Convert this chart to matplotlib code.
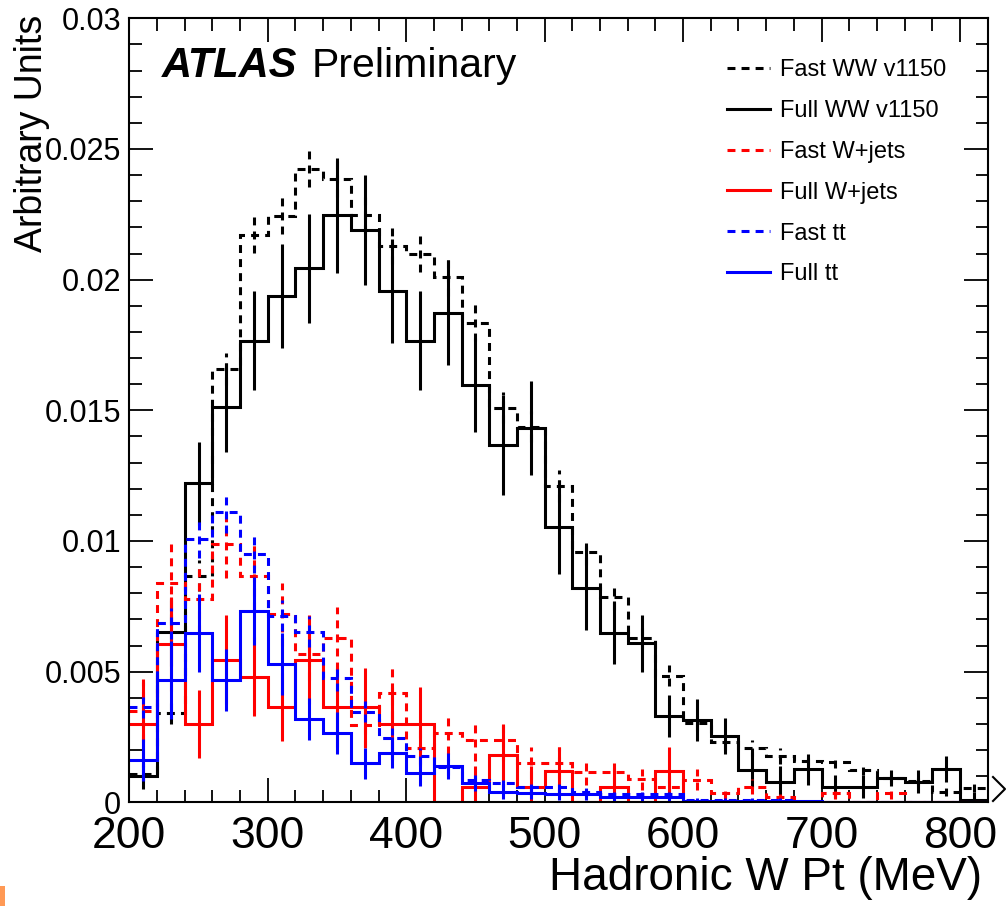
import numpy as np
import matplotlib
matplotlib.use("Agg")
import matplotlib.pyplot as plt
from matplotlib.lines import Line2D
from matplotlib.patches import Rectangle
from matplotlib.ticker import MultipleLocator, FixedLocator, FixedFormatter

plt.rcParams['font.family'] = ['Liberation Sans', 'DejaVu Sans']

# ---------------- data ----------------
bin_edges = list(range(200, 821, 20))  # 31 bins, 200..820

fast_ww = [0.0011, 0.0034, 0.00867, 0.01658, 0.02171, 0.02245, 0.02423, 0.02385,
           0.02247, 0.02129, 0.02098, 0.02009, 0.01835, 0.0151, 0.01437, 0.0121,
           0.00959, 0.00787, 0.00628, 0.00485, 0.00302, 0.0023, 0.00207, 0.00178,
           0.00158, 0.00153, 0.00124, 0.00092, 0.00083, 0.0004, 0.00054]
fast_ww_err = [0.0003, 0.0004, 0.0006, 0.0006, 0.0007, 0.0007, 0.0007, 0.0007,
               0.0007, 0.0007, 0.0007, 0.0007, 0.0007, 0.0006, 0.0006, 0.0006,
               0.0005, 0.0005, 0.0004, 0.0004, 0.0003, 0.0003, 0.0003, 0.0003,
               0.0002, 0.0002, 0.0002, 0.0002, 0.0002, 0.00015, 0.00015]

full_ww = [0.00102, 0.0065, 0.0122, 0.01511, 0.01766, 0.01937, 0.02043, 0.02247,
           0.0219, 0.01957, 0.01766, 0.01874, 0.01597, 0.01367, 0.01434, 0.01052,
           0.00819, 0.00649, 0.00608, 0.00331, 0.00315, 0.00254, 0.00124, 0.00079,
           0.00126, 0.0006, 0.0006, 0.00092, 0.00079, 0.00126, 0.0001]
full_ww_err = [0.0005, 0.0013, 0.0016, 0.0017, 0.0019, 0.0020, 0.0021, 0.0022,
               0.0021, 0.0020, 0.0019, 0.0020, 0.0018, 0.0019, 0.0018, 0.0018,
               0.0016, 0.0012, 0.0011, 0.0008, 0.0008, 0.0007, 0.0007, 0.0006,
               0.0006, 0.00045, 0.00045, 0.0003, 0.00045, 0.0005, 0.0003]

fast_wjets = [0.0035, 0.0084, 0.00777, 0.00988, 0.00867, 0.0072, 0.00568, 0.00628,
              0.00296, 0.0042, 0.00207, 0.00266, 0.00238, 0.00238, 0.0015, 0.0015,
              0.00117, 0.00117, 0.00088, 0.0006, 0.00086, 0.00034, 0.0006, 0.0002,
              0.0, 0.00034, 0.0, 0.00034, 0.0, 0.0, 0.0]
fast_wjets_err = [0.0012, 0.0015, 0.0013, 0.0013, 0.0013, 0.0012, 0.0010, 0.0012,
                  0.0009, 0.0010, 0.0007, 0.0008, 0.0008, 0.0008, 0.0006, 0.0006,
                  0.0005, 0.0005, 0.0004, 0.0004, 0.0004, 0.0002, 0.0003, 0.0002,
                  0.0, 0.0002, 0.0, 0.0002, 0.0, 0.0, 0.0]

full_wjets = [0.003, 0.00606, 0.003, 0.00545, 0.00481, 0.00363, 0.00545, 0.00363,
              0.00363, 0.003, 0.003, 0.0, 0.0006, 0.00181, 0.0006, 0.0012,
              0.0, 0.0006, 0.0, 0.0012, 0.0, 0.0, 0.0, 0.0,
              0.0, 0.0, 0.0, 0.0, 0.0, 0.0, 0.0]
full_wjets_err = [0.0016, 0.0018, 0.0013, 0.0017, 0.0015, 0.0013, 0.0017, 0.0015,
                  0.0015, 0.0014, 0.0014, 0.0, 0.0008, 0.0012, 0.0008, 0.0009,
                  0.0, 0.0007, 0.0, 0.0009, 0.0, 0.0, 0.0, 0.0,
                  0.0, 0.0, 0.0, 0.0, 0.0, 0.0, 0.0]

fast_tt = [0.00363, 0.00685, 0.01006, 0.0111, 0.00949, 0.00714, 0.00653, 0.00477,
           0.00347, 0.00245, 0.00177, 0.00136, 0.00085, 0.00075, 0.0006, 0.0006,
           0.0004, 0.0003, 0.0003, 0.0003, 0.0001, 0.0001, 0.0001, 0.0001,
           0.00003, 0.00003, 0.00003, 0.00003, 0.00003, 0.00003, 0.00003]
fast_tt_err = [0.0004, 0.0006, 0.0007, 0.0008, 0.0007, 0.0006, 0.0006, 0.0005,
               0.0004, 0.0004, 0.0003, 0.0003, 0.0002, 0.0002, 0.0002, 0.0002,
               0.00015, 0.0001, 0.0001, 0.0001, 0.00005, 0.00005, 0.00005, 0.00005,
               0.0, 0.0, 0.0, 0.0, 0.0, 0.0, 0.0]

full_tt = [0.00162, 0.00468, 0.00647, 0.00468, 0.00733, 0.00529, 0.00318, 0.00264,
           0.00149, 0.0019, 0.00113, 0.00139, 0.00075, 0.00041, 0.00034, 0.0003,
           0.0003, 0.0002, 0.0002, 0.0002, 0.00005, 0.00005, 0.00005, 0.00005,
           0.00005, 0.0, 0.0, 0.0, 0.0, 0.0, 0.0]
full_tt_err = [0.0008, 0.0015, 0.0015, 0.0012, 0.0013, 0.0012, 0.0008, 0.0008,
               0.0006, 0.0006, 0.0005, 0.0005, 0.0003, 0.0003, 0.0002, 0.0002,
               0.0002, 0.00015, 0.00015, 0.00015, 0.00005, 0.00005, 0.00005, 0.00005,
               0.00005, 0.0, 0.0, 0.0, 0.0, 0.0, 0.0]

labels = ["Fast WW v1150", "Full WW v1150", "Fast W+jets", "Full W+jets", "Fast tt", "Full tt"]
y_tick_values = [0, 0.005, 0.01, 0.015, 0.02, 0.025, 0.03]
y_tick_labels = ["0", "0.005", "0.01", "0.015", "0.02", "0.025", "0.03"]
x_tick_values = [200, 300, 400, 500, 600, 700, 800]
x_tick_labels = ["200", "300", "400", "500", "600", "700", "800"]

# ---------------- figure ----------------
W, H = 1006, 906
fig = plt.figure(figsize=(W / 100, H / 100), dpi=100)
ax = fig.add_axes([129.3 / W, (H - 802.3) / H, (987.7 - 129.3) / W, (802.3 - 18.3) / H])

edges = np.array(bin_edges, dtype=float)
centers = 0.5 * (edges[:-1] + edges[1:])
dash = (0, (2.6, 2.0))
lw = 2.2

series = [
    (fast_ww, fast_ww_err, 'black', dash),
    (full_ww, full_ww_err, 'black', 'solid'),
    (fast_wjets, fast_wjets_err, '#ff0000', dash),
    (full_wjets, full_wjets_err, '#ff0000', 'solid'),
    (fast_tt, fast_tt_err, '#0000ff', dash),
    (full_tt, full_tt_err, '#0000ff', 'solid'),
]

handles = []
for z, (vals, errs, col, ls) in enumerate(series):
    v = np.array(vals)
    e = np.array(errs)
    ax.stairs(v, edges, baseline=None, color=col, linestyle=ls, linewidth=lw, zorder=2 + z * 0.1)
    m = e > 0
    ax.vlines(centers[m], np.clip(v[m] - e[m], 0, None), v[m] + e[m], colors=col,
              linestyles=[ls], linewidth=lw, zorder=2 + z * 0.1)
    handles.append(Line2D([], [], color=col, linestyle=ls, linewidth=lw))

ax.set_xlim(200, 820)
ax.set_ylim(0, 0.03)

ax.xaxis.set_major_locator(FixedLocator(x_tick_values))
ax.xaxis.set_major_formatter(FixedFormatter(x_tick_labels))
ax.xaxis.set_minor_locator(MultipleLocator(20))
ax.yaxis.set_major_locator(FixedLocator(y_tick_values))
ax.yaxis.set_major_formatter(FixedFormatter(y_tick_labels))
ax.yaxis.set_minor_locator(MultipleLocator(0.001))

ax.tick_params(which='both', direction='in', top=True, right=True, width=1.3, colors='black')
ax.tick_params(which='major', length=17.5)
ax.tick_params(which='minor', length=9)
ax.tick_params(axis='x', which='major', labelsize=32, pad=10)
ax.tick_params(axis='y', which='major', labelsize=22, pad=6)
for s in ax.spines.values():
    s.set_linewidth(1.5)

# legend
leg = ax.legend(handles, labels, frameon=False, fontsize=17,
                loc='upper left', bbox_to_anchor=(727 / W, (H - 59) / H),
                bbox_transform=fig.transFigure,
                handlelength=1.8, handletextpad=0.45, labelspacing=0.80,
                borderaxespad=0, borderpad=0)

# titles
fig.text(161.7 / W, (H - 76.7) / H, "ATLAS", fontsize=30, fontweight='bold',
         fontstyle='italic', ha='left', va='baseline')
fig.text(311.7 / W, (H - 76.7) / H, "Preliminary", fontsize=29.5,
         ha='left', va='baseline')
fig.text(982 / W, (H - 890) / H, "Hadronic W Pt (MeV)", fontsize=33,
         ha='right', va='baseline')
fig.text(41.7 / W, (H - 15) / H, "Arbitrary Units", fontsize=27, rotation=90,
         rotation_mode='anchor', ha='right', va='baseline')

# decorations
fig.add_artist(Line2D([993 / W, 1005 / W, 993 / W], [(H - 777) / H, (H - 789) / H, (H - 801) / H],
                      transform=fig.transFigure, color='black', linewidth=1.5))
fig.add_artist(Rectangle((0, 0), 5 / W, 20 / H, transform=fig.transFigure,
                         facecolor='#ff9955', edgecolor='none'))

fig.savefig("out.png", dpi=100)
